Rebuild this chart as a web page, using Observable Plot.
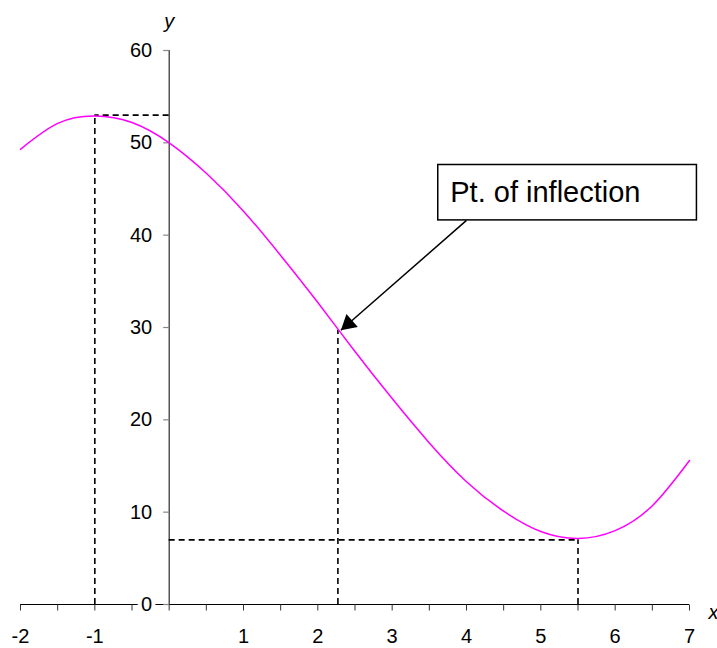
<!DOCTYPE html>
<html><head><meta charset="utf-8">
<script src="https://cdn.jsdelivr.net/npm/d3@7"></script>
<script src="https://cdn.jsdelivr.net/npm/@observablehq/plot@0.6"></script>
<style>body{margin:0;background:#fff}svg{display:block}</style>
</head><body><div id="chart"></div>
<script>
// Curve values
const xValues = [-2, -1.5, -1, -0.5, 0, 0.5, 1, 1.5, 2, 2.5, 3, 3.5, 4, 4.5, 5, 5.5, 6, 6.5, 7];
const yValues = [49.3, 52.1, 52.9, 52.2, 50, 46.7, 42.6, 37.8, 32.7, 27.4, 22.3, 17.5, 13.3, 10.1, 7.9, 7.15, 8, 10.7, 15.6];

// Axis ticks
const xTickMarks = [-2, -1.5, -1, -0.5, 0, 0.5, 1, 1.5, 2, 2.5, 3, 3.5, 4, 4.5, 5, 5.5, 6, 6.5, 7];
const xTickLabels = [-2, -1, 1, 2, 3, 4, 5, 6, 7];
const yTickLabels = [0, 10, 20, 30, 40, 50, 60];

// Guide lines (dashed)
const guideX = [-1, 2.27, 5.5];
const guideXTop = [53, 29.7, 7];
const guideY = [53, 7];
const guideYEnd = [-1, 5.5];

// Annotation
const noteText = "Pt. of inflection";
const noteBox = {x1: 3.62, x2: 7.1, y1: 41.6, y2: 47.6};
const arrowFrom = {x: 4.0, y: 41.6};
const arrowTo = {x: 2.31, y: 29.7};

const curve = xValues.map((x, i) => ({x, y: yValues[i]}));
const vGuides = guideX.map((x, i) => ({x, y: guideXTop[i]}));
const hGuides = guideY.map((y, i) => ({y, x: guideYEnd[i]}));

const tickDown = {draw(ctx) { ctx.moveTo(0, 0); ctx.lineTo(0, 6); }};
const tickLeft = {draw(ctx) { ctx.moveTo(-6, 0); ctx.lineTo(0, 0); }};

const font = "Liberation Sans, Arial, sans-serif";

const plot = Plot.plot({
  width: 717,
  height: 648,
  marginLeft: 20,
  marginRight: 28,
  marginTop: 50,
  marginBottom: 44,
  style: {fontFamily: font, background: "#fff", overflow: "visible"},
  x: {domain: [-2, 7], axis: null},
  y: {domain: [0, 60], axis: null},
  marks: [
    // dashed guides
    Plot.ruleX(vGuides, {x: "x", y1: 0, y2: "y", stroke: "#000", strokeWidth: 1.6, strokeDasharray: "6,4"}),
    Plot.ruleY(hGuides, {y: "y", x1: 0, x2: "x", stroke: "#000", strokeWidth: 1.6, strokeDasharray: "6,4"}),
    // axis lines
    Plot.ruleY([0], {x1: -2, x2: 7, stroke: "#000", strokeWidth: 1}),
    Plot.ruleX([0], {y1: 0, y2: 60, stroke: "#000", strokeWidth: 1}),
    // tick marks
    Plot.dot(xTickMarks, {x: d => d, y: 0, symbol: tickDown, fill: "none", stroke: "#333", strokeWidth: 1}),
    Plot.dot(yTickLabels, {x: 0, y: d => d, symbol: tickLeft, fill: "none", stroke: "#888", strokeWidth: 1.2}),
    // tick labels
    Plot.text(xTickLabels, {x: d => d, y: 0, text: d => String(d), dy: 32, fontSize: 20, fill: "#000"}),
    Plot.text(yTickLabels, {x: 0, y: d => d, text: d => String(d), dx: -17, textAnchor: "end", fontSize: 20, fill: "#000",
      stroke: d => d === 0 ? "#fff" : "none", strokeWidth: 8, paintOrder: "stroke"}),
    // axis titles
    Plot.text(["y"], {x: 0, y: 60, text: d => d, dy: -29, fontSize: 20, fontStyle: "italic", fill: "#000"}),
    Plot.text(["x"], {x: 7, y: 0, text: d => d, dx: 19, dy: 8, textAnchor: "start", fontSize: 20, fontStyle: "italic", fill: "#000"}),
    // curve
    Plot.line(curve, {x: "x", y: "y", curve: "natural", stroke: "#ff00ff", strokeWidth: 1.5}),
    // annotation arrow
    Plot.link([0], {x1: () => arrowFrom.x, y1: () => arrowFrom.y, x2: () => arrowTo.x, y2: () => arrowTo.y, stroke: "#000", strokeWidth: 1.5}),
    Plot.dot([arrowTo], {x: "x", y: "y", symbol: "triangle", r: 6.4, rotate: 228.8, dx: 7.5, dy: -6.6, fill: "#000", stroke: "none"}),
    // annotation box
    Plot.rect([noteBox], {x1: "x1", x2: "x2", y1: "y1", y2: "y2", fill: "#fff", stroke: "#000", strokeWidth: 1.5}),
    Plot.text([noteText], {x: noteBox.x1, y: (noteBox.y1 + noteBox.y2) / 2, text: d => d, dx: 12, textAnchor: "start", fontSize: 29, fill: "#000"})
  ]
});
document.getElementById("chart").append(plot);
</script>
</body></html>
